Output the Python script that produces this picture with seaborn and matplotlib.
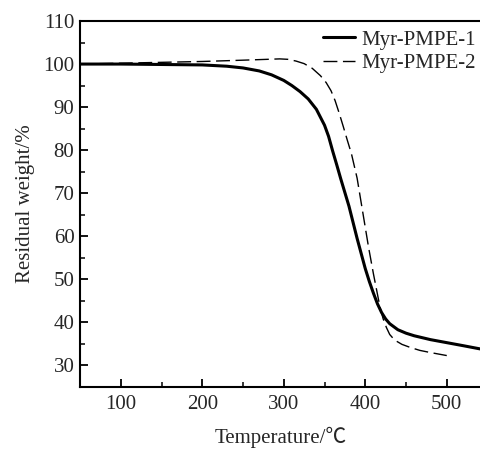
import numpy as np
import pandas as pd
import matplotlib.pyplot as plt
from matplotlib.ticker import MultipleLocator
import seaborn as sns

# TGA curves
temp_1 = [50, 100, 150, 200, 230, 250, 270, 285, 300, 310, 320, 330, 340, 350,
          355, 360, 365, 370, 380, 390, 400, 405, 410, 415, 420, 425, 430, 440,
          450, 460, 480, 500, 520, 545]
weight_1 = [100, 100, 99.9, 99.8, 99.5, 99.1, 98.4, 97.5, 96.2, 95.0, 93.6, 91.9,
            89.5, 85.8, 83.2, 79.8, 76.6, 73.3, 67, 59.5, 52.5, 49.5, 46.8, 44.3,
            42.3, 40.8, 39.7, 38.3, 37.5, 36.9, 36.0, 35.3, 34.6, 33.7]

temp_2 = [50, 100, 150, 200, 250, 280, 295, 305, 315, 325, 335, 345, 352, 358,
          363, 368, 373, 378, 383, 390, 397, 404, 410, 415, 418, 422, 426, 430,
          436, 445, 455, 467, 480, 500]
weight_2 = [100, 100.2, 100.4, 100.6, 100.9, 101.1, 101.2, 101.1, 100.7, 100.1,
            99.0, 97.3, 95.7, 93.8, 91.5, 88.6, 85.5, 82.3, 79.2, 73.5, 65.5,
            57.5, 51.3, 46.5, 43.6, 40.8, 38.8, 37.2, 35.9, 34.9, 34.2, 33.5,
            33.0, 32.3]

labels = ["Myr-PMPE-1", "Myr-PMPE-2"]

df1 = pd.DataFrame({"T": temp_1, "W": weight_1})
df2 = pd.DataFrame({"T": temp_2, "W": weight_2})

sns.set_style("ticks")
plt.rcParams['font.family'] = ['Liberation Serif', 'Noto Sans CJK SC']
plt.rcParams['font.size'] = 15

fig = plt.figure(figsize=(4.81, 4.49), dpi=100)
ax = fig.add_axes([80 / 481, 1 - 387 / 449, 1 - 80 / 481, (387 - 21) / 449])

sns.lineplot(data=df1, x="T", y="W", ax=ax, color="black", lw=2.2,
             label=labels[0], sort=False)
sns.lineplot(data=df2, x="T", y="W", ax=ax, color="black", lw=1.0,
             label=labels[1], sort=False)
ax.lines[1].set_dashes((10, 4))

ax.set_xlim(50, 542)
ax.set_ylim(25, 110)
ax.xaxis.set_major_locator(MultipleLocator(100))
ax.xaxis.set_minor_locator(MultipleLocator(50))
ax.yaxis.set_major_locator(MultipleLocator(10))
ax.yaxis.set_minor_locator(MultipleLocator(5))
ax.set_xticks([100, 200, 300, 400, 500])
ax.tick_params(which="major", direction="in", length=6, width=1.3, labelsize=15, color="black")
ax.tick_params(which="minor", direction="in", length=3.5, width=1.1, color="black")
ax.tick_params(axis="x", which="major", pad=6)
ax.tick_params(axis="y", which="major", pad=4)

for s in ["left", "bottom", "top"]:
    ax.spines[s].set_linewidth(1.5)
    ax.spines[s].set_color("black")
ax.spines["right"].set_visible(False)

ax.set_xlabel("Temperature/℃", fontsize=15, labelpad=9)
ax.set_ylabel("Residual weight/%", fontsize=15, labelpad=6)

leg = ax.legend(loc="upper left", bbox_to_anchor=(0.605, 0.975), frameon=False,
                borderpad=0, borderaxespad=0, handlelength=1.55, handletextpad=0.3,
                labelspacing=0.2, fontsize=15)
leg.get_lines()[1].set_dashes((10, 4))

fig.savefig("out.png", dpi=100)
